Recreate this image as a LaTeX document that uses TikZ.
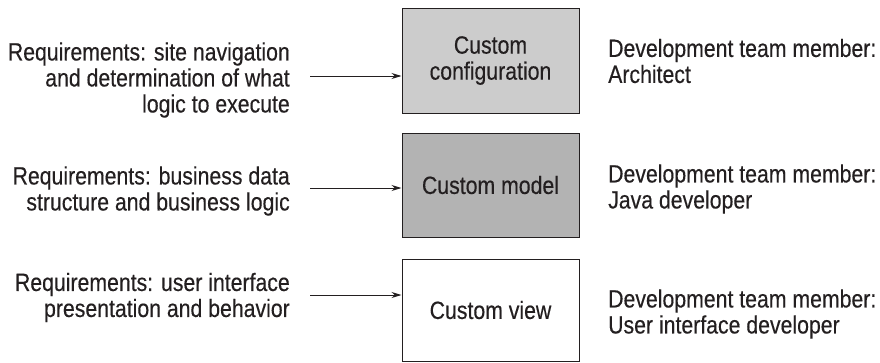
\documentclass[tikz,border=0pt]{standalone}
\usepackage{fontspec}
\setmainfont{Liberation Sans}[FakeStretch=0.85,FakeBold=0.3]
\usepackage{tikz}
\usetikzlibrary{positioning,arrows.meta}

\definecolor{inkdark}{HTML}{231F20}
\definecolor{cfgfill}{HTML}{CCCCCC}
\definecolor{modelfill}{HTML}{B3B3B3}

\begin{document}
\begin{tikzpicture}[x=1pt, y=-1pt,
    font=\fontsize{25}{26}\selectfont, text=inkdark,
    layer/.style={draw=inkdark, line width=1pt, minimum width=177pt,
      inner sep=0pt, align=center},
    req/.style={anchor=east, inner sep=0pt, align=right},
    who/.style={anchor=west, inner sep=0pt, align=left},
    feed/.style={draw=inkdark, line width=1pt, -{Stealth[length=10pt,width=6pt]}}]
  \useasboundingbox (0,0) rectangle (880,362);
  % the three custom layers
  \node[layer, fill=cfgfill, minimum height=105pt] (config) at (490.5,60.5) {Custom\\configuration};
  \node[layer, fill=modelfill, minimum height=104pt] (model) at (490.5,185) {Custom model};
  \node[layer, fill=white, minimum height=102pt] (view) at (490.5,310) {Custom view};
  % requirements (left)
  \node[req] (reqcfg) at (290,80) {Requirements: site navigation\\and determination of what\\logic to execute};
  \node[req] (reqmodel) at (290,191) {Requirements: business data\\structure and business logic};
  \node[req] (reqview) at (290,297.5) {Requirements: user interface\\presentation and behavior};
  % team members (right)
  \node[who] (whocfg) at (608,61) {Development team member:\\Architect};
  \node[who] (whomodel) at (608,189) {Development team member:\\Java developer};
  \node[who] (whoview) at (608,314) {Development team member:\\User interface developer};
  % arrows into the layers
  \coordinate (incfg) at (310,76);
  \coordinate (inmodel) at (310,188);
  \coordinate (inview) at (310,295);
  \draw[feed] (incfg) -- (incfg -| config.west);
  \draw[feed] (inmodel) -- (inmodel -| model.west);
  \draw[feed] (inview) -- (inview -| view.west);
\end{tikzpicture}
\end{document}
